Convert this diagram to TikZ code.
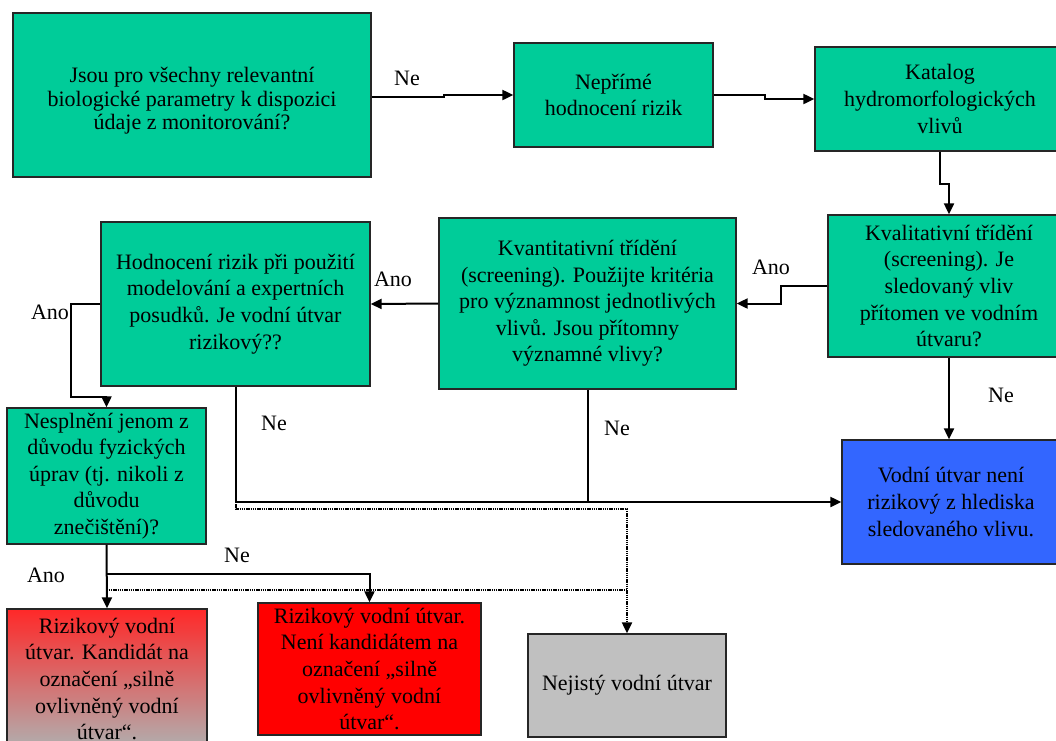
\documentclass[tikz,border=0pt]{standalone}
\usepackage{fontspec}
\setmainfont{Liberation Serif}
\usetikzlibrary{arrows.meta}
\definecolor{boxgreen}{RGB}{0,204,153}
\definecolor{boxblue}{RGB}{51,102,255}
\definecolor{boxred}{RGB}{255,0,0}
\definecolor{boxgrey}{RGB}{192,192,192}
\begin{document}
\begin{tikzpicture}[x=1pt,y=-1pt,
  box/.style={draw=black!85, line width=1.3pt, align=center, inner sep=0pt,
    font={\fontsize{22}{26.6}\selectfont}},
  gbox/.style={box, fill=boxgreen},
  lbl/.style={inner sep=0pt, font={\fontsize{22}{26.6}\selectfont}},
  line/.style={line width=2pt, draw=black},
  conn/.style={line, -{Triangle[length=11pt,width=10pt]}},
  dotline/.style={line width=2pt, draw=black, dash pattern=on 1.4pt off 0.8pt},
  dotconn/.style={dotline, -{Triangle[length=11pt,width=10pt]}}]
\useasboundingbox (0,0) rectangle (1056,740);

% decision and process boxes
\node[gbox, minimum width=358pt, minimum height=164pt] (q1) at (192,95) {};
\node[align=center, inner sep=0pt, font={\fontsize{22}{23.5}\selectfont}] (q1text) at (192,101)
  {Jsou pro všechny relevantní\\biologické parametry k dispozici\\údaje z monitorování?};
\node[gbox, minimum width=199pt, minimum height=104pt] (q2) at (613.5,95)
  {Nepřímé\\hodnocení rizik};
\node[gbox, minimum width=250pt, minimum height=104pt] (q3) at (940,99)
  {Katalog\\hydromorfologických\\vlivů};
\node[gbox, minimum width=242pt, minimum height=142pt] (kval) at (949,286)
  {Kvalitativní třídění\\(screening). Je\\sledovaný vliv\\přítomen ve vodním\\útvaru?};
\node[gbox, minimum width=297pt, minimum height=171pt] (kvant) at (587.5,303.5)
  {Kvantitativní třídění\\(screening). Použijte kritéria\\pro významnost jednotlivých\\vlivů. Jsou přítomny\\významné vlivy?};
\node[gbox, minimum width=269pt, minimum height=164pt] (hod) at (235.5,304)
  {Hodnocení rizik při použití\\modelování a expertních\\posudků. Je vodní útvar\\rizikový??};
\node[gbox, minimum width=199pt, minimum height=136pt] (nespl) at (106.5,476)
  {Nesplnění jenom z\\důvodu fyzických\\úprav (tj. nikoli z\\důvodu\\znečištění)?};

% outcome boxes
\node[box, fill=boxblue, minimum width=218pt, minimum height=124pt] (blue) at (951,502)
  {Vodní útvar není\\rizikový z hlediska\\sledovaného vlivu.};
\node[box, top color={rgb,255:red,255;green,40;blue,40}, bottom color={rgb,255:red,176;green,176;blue,176},
  minimum width=200pt, minimum height=140pt] (red1) at (107,679)
  {Rizikový vodní\\útvar. Kandidát na\\označení „silně\\ovlivněný vodní\\útvar“.};
\node[box, fill=boxred, minimum width=223pt, minimum height=132pt] (red2) at (369.5,669)
  {Rizikový vodní útvar.\\Není kandidátem na\\označení „silně\\ovlivněný vodní\\útvar“.};
\node[box, fill=boxgrey, minimum width=198pt, minimum height=103pt] (grey) at (627,685.5)
  {Nejistý vodní útvar};

% connectors
\draw[conn] ([yshift=-2pt]q1.east) -- ++(72,0) |- (q2.west);
\draw[conn] (q2.east) -- ++(51,0) |- (q3.west);
\draw[conn] (q3.south) -- ++(0,32) -| (kval.north);
\draw[conn] (kval.west) -- ++(-46,0) |- (kvant.east);
\draw[conn] (kvant.west) -- (hod.east);
\draw[conn] (hod.west) -- ++(-29,0) -- ++(0,93) -| (nespl.north);
\draw[conn] (hod.south) |- (blue.west);
\draw[line] (kvant.south) -- (kvant.south |- blue.west);
\draw[conn] (kval.south) -- (kval.south |- blue.north);
\draw[dotconn] (hod.south |- blue.west) -- ++(0,7) -| (grey.north);
\draw[dotline] ([yshift=-45pt]nespl.south) -- ([yshift=-45pt]nespl.south -| grey.north);
\draw[conn] (nespl.south) -- (red1.north);
\draw[conn] ([yshift=-29pt]nespl.south) -| (red2.north);

% branch labels
\node[lbl] (l1) at (407,78) {Ne};
\node[lbl] (l2) at (393,279) {Ano};
\node[lbl] (l3) at (771,267) {Ano};
\node[lbl] (l4) at (50,312) {Ano};
\node[lbl] (l5) at (274,423) {Ne};
\node[lbl] (l6) at (617,428) {Ne};
\node[lbl] (l7) at (1001,395) {Ne};
\node[lbl] (l8) at (237,555) {Ne};
\node[lbl] (l9) at (46,575) {Ano};
\end{tikzpicture}
\end{document}
